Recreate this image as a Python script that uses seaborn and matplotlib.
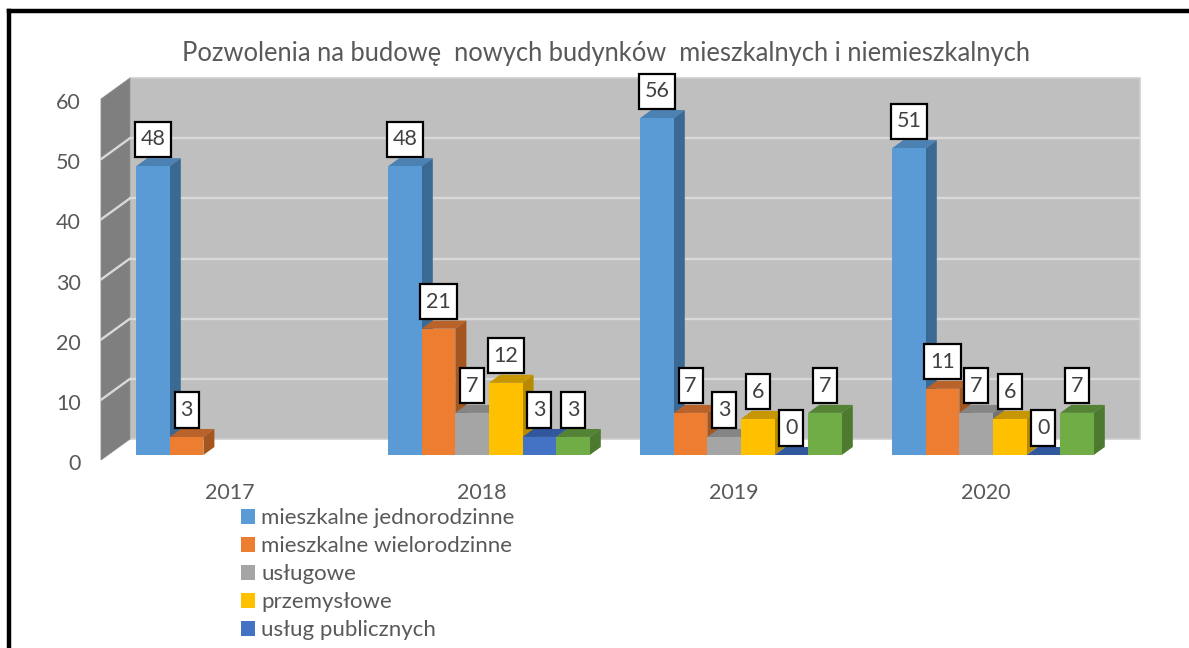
import matplotlib
matplotlib.use("Agg")
import matplotlib.pyplot as plt
import numpy as np
import pandas as pd
import seaborn as sns
from matplotlib.lines import Line2D
from matplotlib.patches import Patch, Polygon
from matplotlib.path import Path
from matplotlib.transforms import Affine2D

W, H = 1189, 648
years = ["2017", "2018", "2019", "2020"]
series = ["mieszkalne jednorodzinne", "mieszkalne wielorodzinne", "usługowe",
          "przemysłowe", "usług publicznych", "pozostałe"]
jednorodzinne = [48, 48, 56, 51]
wielorodzinne = [3, 21, 7, 11]
uslugowe = [None, 7, 3, 7]
przemyslowe = [None, 12, 6, 6]
publiczne = [None, 3, 0, 0]
pozostale = [None, 3, 7, 7]
all_values = [jednorodzinne, wielorodzinne, uslugowe, przemyslowe, publiczne, pozostale]
yticks = [0, 10, 20, 30, 40, 50, 60]
title = "Pozwolenia na budowę  nowych budynków  mieszkalnych i niemieszkalnych"

front = ["#5B9BD5", "#ED7D31", "#A5A5A5", "#FFC000", "#4472C4", "#70AD47"]
side = ["#3A6A94", "#A3561F", "#737373", "#B88A00", "#2F5597", "#4D7A2F"]
top = ["#4C82B3", "#B9622A", "#858585", "#C79600", "#31589C", "#558336"]
text_col = "#595959"

rows = [(y, s, v) for s, vals in zip(series, all_values) for y, v in zip(years, vals) if v is not None]
df = pd.DataFrame(rows, columns=["rok", "typ", "liczba"])

sns.set_theme(style="white")
plt.rcParams["font.family"] = ["Lato", "DejaVu Sans"]

fig = plt.figure(figsize=(W / 100, H / 100), dpi=100, facecolor="white")
L, R, T, B = 111, 1119, 94, 455
ax = fig.add_axes([L / W, 1 - B / H, (R - L) / W, (B - T) / H])
ax.patch.set_visible(False)

sns.barplot(data=df, x="rok", y="liczba", hue="typ", order=years, hue_order=series,
            palette=front, width=0.8, gap=0, saturation=1, legend=False, ax=ax,
            linewidth=0, errorbar=None)
ax.set_xlim(-0.5, 3.5)
ax.set_ylim(0, 60)
ax.set_xlabel("")
ax.set_ylabel("")
for s in ax.spines.values():
    s.set_visible(False)


def pix(x, y):
    return ax.transData.transform((x, y))


def poly(points, **kw):
    p = Polygon(points, closed=True, clip_on=False, **kw)
    p.set_transform(Affine2D())
    ax.add_artist(p)
    return p


def label_box(x0, y0, w, h, mutation_size):
    # box around a label, wider padding vertically than horizontally (units: points)
    px_, py_ = 8 * 0.72, 10.5 * 0.72
    xa, xb, ya, yb = x0 - px_, x0 + w + px_, y0 - py_, y0 + h + py_
    return Path([(xa, ya), (xb, ya), (xb, yb), (xa, yb), (xa, ya)], closed=True)


# walls
back_dx, back_dy = 19, 16
left_dx, left_dy = -10, -5
b0 = pix(-0.5, 0) + (back_dx, back_dy)
b6 = pix(-0.5, 60) + (back_dx, back_dy)
r0 = pix(3.5, 0) + (back_dx + 2, back_dy)
r6 = pix(3.5, 60) + (back_dx + 2, back_dy)
f0 = pix(-0.5, 0) + (left_dx, left_dy)
f6 = pix(-0.5, 60) + (left_dx, left_dy)
poly([b0, r0, r6, b6], facecolor="#BFBFBF", edgecolor="#CFCFCF", linewidth=1.2, zorder=0.5)
poly([f0, b0, b6, f6], facecolor="#7F7F7F", edgecolor="#8C8C8C", linewidth=0.6, zorder=0.6)
for v in yticks[1:-1]:
    yb = pix(-0.5, v) + (back_dx, back_dy)
    yr = pix(3.5, v) + (back_dx + 2, back_dy)
    yf = pix(-0.5, v) + (left_dx, left_dy)
    for a, c in ((yf, yb), (yb, yr)):
        ax.add_artist(Line2D([a[0], c[0]], [a[1], c[1]], color="#D9D9D9", lw=1.7,
                             transform=Affine2D(), clip_on=False, zorder=0.8))

# pseudo-3D faces, derived from the bars seaborn drew
dep_x, dep_y = 11, 8
labels = []
for container, hue_i in zip(ax.containers, range(len(series))):
    present = [i for i, v in enumerate(all_values[hue_i]) if v is not None]
    for rect, cat_i in zip(container.patches, present):
        v = all_values[hue_i][cat_i]
        z = 2 + hue_i * 0.1
        rect.set_zorder(z + 0.05)
        x0, x1 = rect.get_x(), rect.get_x() + rect.get_width()
        a, b = pix(x0, v), pix(x1, v)
        c = pix(x1, 0)
        d = np.array((dep_x, dep_y))
        poly([a, b, b + d, a + d], facecolor=top[hue_i], edgecolor="none", zorder=z)
        poly([c, b, b + d, c + d], facecolor=side[hue_i], edgecolor="none", zorder=z)
        labels.append(((x0 + x1) / 2, v))

for x, v in labels:
    ax.annotate(str(v), (x, v), xytext=(0, 27 * 0.72), textcoords="offset points",
                ha="center", va="center", fontsize=15.5, color="#404040", zorder=10,
                annotation_clip=False,
                bbox=dict(boxstyle=label_box, facecolor="white", edgecolor="black", linewidth=1.6))

# axes text
ax.set_yticks(yticks)
ax.set_yticklabels([str(v) for v in yticks])
ax.set_xticks(range(len(years)))
ax.set_xticklabels(years)
ax.tick_params(axis="y", length=0, pad=30 * 0.72, labelsize=15.5, labelcolor=text_col)
ax.tick_params(axis="x", length=0, pad=28 * 0.72, labelsize=15.5, labelcolor=text_col)
for lab in ax.get_yticklabels():
    lab.set_transform(lab.get_transform() + Affine2D().translate(0, -7))
for lab in ax.get_xticklabels():
    lab.set_transform(lab.get_transform() + Affine2D().translate(-7, 0))

fig.text(606 / W, 1 - 53 / H, title, ha="center", va="center", fontsize=18.4, color=text_col)

handles = [Patch(facecolor=c, edgecolor="none") for c in front[:5]]
fig.legend(handles, series[:5], loc="upper left", bbox_to_anchor=(241 / W, 1 - 508.5 / H),
           frameon=False, fontsize=16, labelcolor=text_col, handlelength=0.65, handleheight=0.65,
           handletextpad=0.27, labelspacing=0.36, borderpad=0, borderaxespad=0)

# frame of the picture: only the top and left edges are inside the image
fig.add_artist(Line2D([8.5 / W, 8.5 / W], [0, 1 - 11 / H], color="black", lw=3.2, solid_capstyle="projecting"))
fig.add_artist(Line2D([8.5 / W, 1], [1 - 11 / H, 1 - 11 / H], color="black", lw=3.2, solid_capstyle="projecting"))

fig.savefig("out.png", dpi=100, facecolor="white")
